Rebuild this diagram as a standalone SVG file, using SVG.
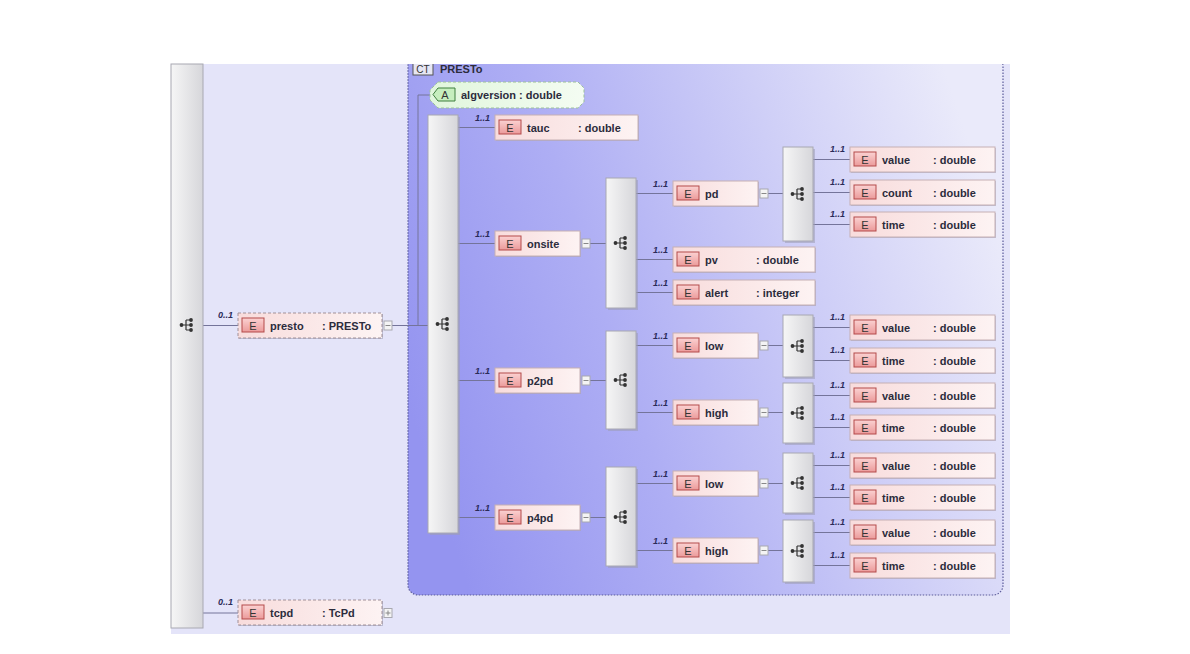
<svg xmlns="http://www.w3.org/2000/svg" xmlns:xlink="http://www.w3.org/1999/xlink" width="1190" height="654" viewBox="0 0 1190 654">
<defs>
<linearGradient id="gCT" x1="0" y1="0.65" x2="1" y2="0.35">
<stop offset="0" stop-color="#9494f0"/><stop offset="0.35" stop-color="#aeaef4"/><stop offset="0.7" stop-color="#cfcff7"/><stop offset="1" stop-color="#eaeafa"/>
</linearGradient>
<linearGradient id="gSeq" x1="0" y1="0" x2="1" y2="0">
<stop offset="0" stop-color="#f6f6f6"/><stop offset="1" stop-color="#d6d6da"/>
</linearGradient>
<linearGradient id="gEl" x1="0" y1="0" x2="1" y2="0">
<stop offset="0" stop-color="#f8dcdc"/><stop offset="1" stop-color="#fdf3f3"/>
</linearGradient>
<linearGradient id="gBadge" x1="0" y1="0" x2="0" y2="1">
<stop offset="0" stop-color="#fbd2d2"/><stop offset="1" stop-color="#eb9a9a"/>
</linearGradient>
<linearGradient id="gAttr" x1="0" y1="0" x2="1" y2="0">
<stop offset="0" stop-color="#e0f6dc"/><stop offset="1" stop-color="#f4fcf2"/>
</linearGradient>
<clipPath id="clipTop"><rect x="0" y="64" width="1190" height="590"/></clipPath>
<g id="seqicon">
<path d="M-5 0H-1M-1 -5V5M-1 -5H4M-1 0H4M-1 5H4" fill="none" stroke="#333" stroke-width="1.2"/>
<circle cx="-5.5" cy="0" r="1.9" fill="#333"/>
<circle cx="4" cy="-5" r="1.9" fill="#333"/>
<circle cx="4" cy="0" r="1.9" fill="#333"/>
<circle cx="4" cy="5" r="1.9" fill="#333"/>
</g>
</defs>
<style>
.bg{fill:#e4e4f9}
.ct{fill:url(#gCT);stroke:#5a5a9a;stroke-width:1.2;stroke-dasharray:1.5 1.5}
.seq{fill:url(#gSeq);stroke:#a8a8b2}
.sh{fill:#9c9cb4;opacity:0.55}
.el{fill:url(#gEl);stroke:#c6b0b4}
.eld{fill:url(#gEl);stroke:#a09098;stroke-dasharray:3 2}
.badge{fill:url(#gBadge);stroke:#b44a4a}
.t{font-family:"Liberation Sans",Arial,sans-serif;font-size:11px;font-weight:bold;fill:#2c2c3c}
.bt{font-family:"Liberation Sans",Arial,sans-serif;font-size:11px;fill:#333;text-anchor:middle}
.m{font-family:"Liberation Sans",Arial,sans-serif;font-size:9px;font-style:italic;font-weight:bold;fill:#2a2a5a;text-anchor:end}
.c{stroke:#74749a;stroke-width:1;fill:none}
.btn{fill:#f4f4f4;stroke:#a8a8b0}
.btnl{stroke:#888;stroke-width:1;fill:none}
</style>

<rect class="bg" x="171" y="64" width="839" height="570"/>

<g id="ct-presto" clip-path="url(#clipTop)">
<rect class="ct" x="408" y="56" width="595" height="539" rx="10" ry="10"/>
<rect x="413" y="60" width="20" height="15" fill="#e6e6f4" stroke="#555" stroke-width="1"/>
<text x="423" y="73" font-family="'Liberation Sans',Arial,sans-serif" font-size="10" fill="#333" text-anchor="middle">CT</text>
<text class="t" x="440" y="73">PRESTo</text>
</g>

<g id="connectors">
<path class="c" d="M203 325.5H238M203 613H238M392 325.5H428M418 95V325.5M418 95H430M458 127.5H495M458 243.5H495M458 380.5H495M458 517.5H495M590 243.5H606M636 193.5H673M636 259.5H673M636 292.5H673M766 193.5H783M813 159.5H850M813 192.5H850M813 224.5H850M590 380.5H606M636 345.5H673M636 412.5H673M766 345.5H783M813 327.5H850M813 360.5H850M766 412.5H783M813 395.5H850M813 427.5H850M590 517.5H606M636 483.5H673M636 550.5H673M766 483.5H783M813 465.5H850M813 497.5H850M766 550.5H783M813 532.5H850M813 565.5H850"/>
<text class="m" x="233" y="318">0..1</text>
<text class="m" x="233" y="605">0..1</text>
<text class="m" x="490" y="121">1..1</text>
<text class="m" x="490" y="237">1..1</text>
<text class="m" x="490" y="374">1..1</text>
<text class="m" x="490" y="511">1..1</text>
<text class="m" x="668" y="187">1..1</text>
<text class="m" x="668" y="253">1..1</text>
<text class="m" x="668" y="286">1..1</text>
<text class="m" x="668" y="339">1..1</text>
<text class="m" x="668" y="406">1..1</text>
<text class="m" x="668" y="477">1..1</text>
<text class="m" x="668" y="544">1..1</text>
<text class="m" x="845" y="152">1..1</text>
<text class="m" x="845" y="185">1..1</text>
<text class="m" x="845" y="217">1..1</text>
<text class="m" x="845" y="320">1..1</text>
<text class="m" x="845" y="353">1..1</text>
<text class="m" x="845" y="388">1..1</text>
<text class="m" x="845" y="420">1..1</text>
<text class="m" x="845" y="458">1..1</text>
<text class="m" x="845" y="490">1..1</text>
<text class="m" x="845" y="525">1..1</text>
<text class="m" x="845" y="558">1..1</text>
</g>

<g id="seq-root"><rect class="seq" x="171" y="64" width="32" height="564"/><use xlink:href="#seqicon" x="187" y="325"/></g>
<g id="seq-presto"><rect class="sh" x="430" y="117" width="30" height="418"/><rect class="seq" x="428" y="115" width="30" height="418"/><use xlink:href="#seqicon" x="443" y="324"/></g>
<g id="seq-onsite"><rect class="sh" x="608" y="180" width="30" height="130"/><rect class="seq" x="606" y="178" width="30" height="130"/><use xlink:href="#seqicon" x="621" y="243"/></g>
<g id="seq-p2pd"><rect class="sh" x="608" y="333" width="30" height="98"/><rect class="seq" x="606" y="331" width="30" height="98"/><use xlink:href="#seqicon" x="621" y="380"/></g>
<g id="seq-p4pd"><rect class="sh" x="608" y="469" width="30" height="99"/><rect class="seq" x="606" y="467" width="30" height="99"/><use xlink:href="#seqicon" x="621" y="517"/></g>
<g id="seq-pd"><rect class="sh" x="785" y="149" width="30" height="94"/><rect class="seq" x="783" y="147" width="30" height="94"/><use xlink:href="#seqicon" x="798" y="194"/></g>
<g id="seq-low1"><rect class="sh" x="785" y="317" width="30" height="62"/><rect class="seq" x="783" y="315" width="30" height="62"/><use xlink:href="#seqicon" x="798" y="346"/></g>
<g id="seq-high1"><rect class="sh" x="785" y="385" width="30" height="60"/><rect class="seq" x="783" y="383" width="30" height="60"/><use xlink:href="#seqicon" x="798" y="413"/></g>
<g id="seq-low2"><rect class="sh" x="785" y="455" width="30" height="60"/><rect class="seq" x="783" y="453" width="30" height="60"/><use xlink:href="#seqicon" x="798" y="483"/></g>
<g id="seq-high2"><rect class="sh" x="785" y="522" width="30" height="62"/><rect class="seq" x="783" y="520" width="30" height="62"/><use xlink:href="#seqicon" x="798" y="551"/></g>

<g id="attr-algversion">
<polygon points="438,82 578,82 584,88 584,102 578,108 438,108 430,100 430,90" fill="url(#gAttr)" stroke="#9cc09c" stroke-dasharray="3 2"/>
<polygon points="438,88 455,88 455,101 438,101 433,94.5" fill="#c6eebe" stroke="#3e7e3e"/>
<text class="bt" x="445" y="98.5">A</text>
<text class="t" x="461" y="98.5">algversion : double</text>
</g>

<g id="el-presto"><rect class="sh" x="239" y="314" width="144" height="25"/><rect class="eld" x="238" y="313" width="144" height="25"/><rect class="badge" x="242" y="318" width="22" height="14"/><text class="bt" x="253" y="329.5">E</text><text class="t" x="270" y="329.5">presto</text><text class="t" x="322" y="329.5">: PRESTo</text><rect class="btn" x="384" y="321" width="8" height="9"/><path class="btnl" d="M385.5 325.5H390.5"/></g>
<g id="el-tcpd"><rect class="sh" x="239" y="601" width="144" height="25"/><rect class="eld" x="238" y="600" width="144" height="25"/><rect class="badge" x="242" y="605" width="22" height="14"/><text class="bt" x="253" y="616.5">E</text><text class="t" x="270" y="616.5">tcpd</text><text class="t" x="322" y="616.5">: TcPd</text><rect class="btn" x="384" y="608.5" width="8" height="9"/><path class="btnl" d="M385.5 613H390.5M388 610.5V615.5"/></g>

<g id="el-tauc"><rect class="sh" x="496" y="116" width="143" height="25"/><rect class="el" x="495" y="115" width="143" height="25"/><rect class="badge" x="499" y="120" width="22" height="14"/><text class="bt" x="510" y="131.5">E</text><text class="t" x="527" y="131.5">tauc</text><text class="t" x="578" y="131.5">: double</text></g>
<g id="el-onsite"><rect class="sh" x="496" y="232" width="85" height="25"/><rect class="el" x="495" y="231" width="85" height="25"/><rect class="badge" x="499" y="236" width="22" height="14"/><text class="bt" x="510" y="247.5">E</text><text class="t" x="527" y="247.5">onsite</text><rect class="btn" x="582" y="239" width="8" height="9"/><path class="btnl" d="M583.5 243.5H588.5"/></g>
<g id="el-p2pd"><rect class="sh" x="496" y="369" width="85" height="25"/><rect class="el" x="495" y="368" width="85" height="25"/><rect class="badge" x="499" y="373" width="22" height="14"/><text class="bt" x="510" y="384.5">E</text><text class="t" x="527" y="384.5">p2pd</text><rect class="btn" x="582" y="376" width="8" height="9"/><path class="btnl" d="M583.5 380.5H588.5"/></g>
<g id="el-p4pd"><rect class="sh" x="496" y="506" width="85" height="25"/><rect class="el" x="495" y="505" width="85" height="25"/><rect class="badge" x="499" y="510" width="22" height="14"/><text class="bt" x="510" y="521.5">E</text><text class="t" x="527" y="521.5">p4pd</text><rect class="btn" x="582" y="513" width="8" height="9"/><path class="btnl" d="M583.5 517.5H588.5"/></g>

<g id="el-pd"><rect class="sh" x="674" y="182" width="85" height="25"/><rect class="el" x="673" y="181" width="85" height="25"/><rect class="badge" x="677" y="186" width="22" height="14"/><text class="bt" x="688" y="197.5">E</text><text class="t" x="705" y="197.5">pd</text><rect class="btn" x="760" y="189" width="8" height="9"/><path class="btnl" d="M761.5 193.5H766.5"/></g>
<g id="el-pv"><rect class="sh" x="674" y="248" width="142" height="25"/><rect class="el" x="673" y="247" width="142" height="25"/><rect class="badge" x="677" y="252" width="22" height="14"/><text class="bt" x="688" y="263.5">E</text><text class="t" x="705" y="263.5">pv</text><text class="t" x="756" y="263.5">: double</text></g>
<g id="el-alert"><rect class="sh" x="674" y="281" width="142" height="25"/><rect class="el" x="673" y="280" width="142" height="25"/><rect class="badge" x="677" y="285" width="22" height="14"/><text class="bt" x="688" y="296.5">E</text><text class="t" x="705" y="296.5">alert</text><text class="t" x="756" y="296.5">: integer</text></g>
<g id="el-low1"><rect class="sh" x="674" y="334" width="85" height="25"/><rect class="el" x="673" y="333" width="85" height="25"/><rect class="badge" x="677" y="338" width="22" height="14"/><text class="bt" x="688" y="349.5">E</text><text class="t" x="705" y="349.5">low</text><rect class="btn" x="760" y="341" width="8" height="9"/><path class="btnl" d="M761.5 345.5H766.5"/></g>
<g id="el-high1"><rect class="sh" x="674" y="401" width="85" height="25"/><rect class="el" x="673" y="400" width="85" height="25"/><rect class="badge" x="677" y="405" width="22" height="14"/><text class="bt" x="688" y="416.5">E</text><text class="t" x="705" y="416.5">high</text><rect class="btn" x="760" y="408" width="8" height="9"/><path class="btnl" d="M761.5 412.5H766.5"/></g>
<g id="el-low2"><rect class="sh" x="674" y="472" width="85" height="25"/><rect class="el" x="673" y="471" width="85" height="25"/><rect class="badge" x="677" y="476" width="22" height="14"/><text class="bt" x="688" y="487.5">E</text><text class="t" x="705" y="487.5">low</text><rect class="btn" x="760" y="479" width="8" height="9"/><path class="btnl" d="M761.5 483.5H766.5"/></g>
<g id="el-high2"><rect class="sh" x="674" y="539" width="85" height="25"/><rect class="el" x="673" y="538" width="85" height="25"/><rect class="badge" x="677" y="543" width="22" height="14"/><text class="bt" x="688" y="554.5">E</text><text class="t" x="705" y="554.5">high</text><rect class="btn" x="760" y="546" width="8" height="9"/><path class="btnl" d="M761.5 550.5H766.5"/></g>

<g id="el-pd-value"><rect class="sh" x="851" y="148" width="145" height="25"/><rect class="el" x="850" y="147" width="145" height="25"/><rect class="badge" x="854" y="152" width="22" height="14"/><text class="bt" x="865" y="163.5">E</text><text class="t" x="882" y="163.5">value</text><text class="t" x="933" y="163.5">: double</text></g>
<g id="el-pd-count"><rect class="sh" x="851" y="181" width="145" height="25"/><rect class="el" x="850" y="180" width="145" height="25"/><rect class="badge" x="854" y="185" width="22" height="14"/><text class="bt" x="865" y="196.5">E</text><text class="t" x="882" y="196.5">count</text><text class="t" x="933" y="196.5">: double</text></g>
<g id="el-pd-time"><rect class="sh" x="851" y="213" width="145" height="25"/><rect class="el" x="850" y="212" width="145" height="25"/><rect class="badge" x="854" y="217" width="22" height="14"/><text class="bt" x="865" y="228.5">E</text><text class="t" x="882" y="228.5">time</text><text class="t" x="933" y="228.5">: double</text></g>
<g id="el-low1-value"><rect class="sh" x="851" y="316" width="145" height="25"/><rect class="el" x="850" y="315" width="145" height="25"/><rect class="badge" x="854" y="320" width="22" height="14"/><text class="bt" x="865" y="331.5">E</text><text class="t" x="882" y="331.5">value</text><text class="t" x="933" y="331.5">: double</text></g>
<g id="el-low1-time"><rect class="sh" x="851" y="349" width="145" height="25"/><rect class="el" x="850" y="348" width="145" height="25"/><rect class="badge" x="854" y="353" width="22" height="14"/><text class="bt" x="865" y="364.5">E</text><text class="t" x="882" y="364.5">time</text><text class="t" x="933" y="364.5">: double</text></g>
<g id="el-high1-value"><rect class="sh" x="851" y="384" width="145" height="25"/><rect class="el" x="850" y="383" width="145" height="25"/><rect class="badge" x="854" y="388" width="22" height="14"/><text class="bt" x="865" y="399.5">E</text><text class="t" x="882" y="399.5">value</text><text class="t" x="933" y="399.5">: double</text></g>
<g id="el-high1-time"><rect class="sh" x="851" y="416" width="145" height="25"/><rect class="el" x="850" y="415" width="145" height="25"/><rect class="badge" x="854" y="420" width="22" height="14"/><text class="bt" x="865" y="431.5">E</text><text class="t" x="882" y="431.5">time</text><text class="t" x="933" y="431.5">: double</text></g>
<g id="el-low2-value"><rect class="sh" x="851" y="454" width="145" height="25"/><rect class="el" x="850" y="453" width="145" height="25"/><rect class="badge" x="854" y="458" width="22" height="14"/><text class="bt" x="865" y="469.5">E</text><text class="t" x="882" y="469.5">value</text><text class="t" x="933" y="469.5">: double</text></g>
<g id="el-low2-time"><rect class="sh" x="851" y="486" width="145" height="25"/><rect class="el" x="850" y="485" width="145" height="25"/><rect class="badge" x="854" y="490" width="22" height="14"/><text class="bt" x="865" y="501.5">E</text><text class="t" x="882" y="501.5">time</text><text class="t" x="933" y="501.5">: double</text></g>
<g id="el-high2-value"><rect class="sh" x="851" y="521" width="145" height="25"/><rect class="el" x="850" y="520" width="145" height="25"/><rect class="badge" x="854" y="525" width="22" height="14"/><text class="bt" x="865" y="536.5">E</text><text class="t" x="882" y="536.5">value</text><text class="t" x="933" y="536.5">: double</text></g>
<g id="el-high2-time"><rect class="sh" x="851" y="554" width="145" height="25"/><rect class="el" x="850" y="553" width="145" height="25"/><rect class="badge" x="854" y="558" width="22" height="14"/><text class="bt" x="865" y="569.5">E</text><text class="t" x="882" y="569.5">time</text><text class="t" x="933" y="569.5">: double</text></g>
</svg>
